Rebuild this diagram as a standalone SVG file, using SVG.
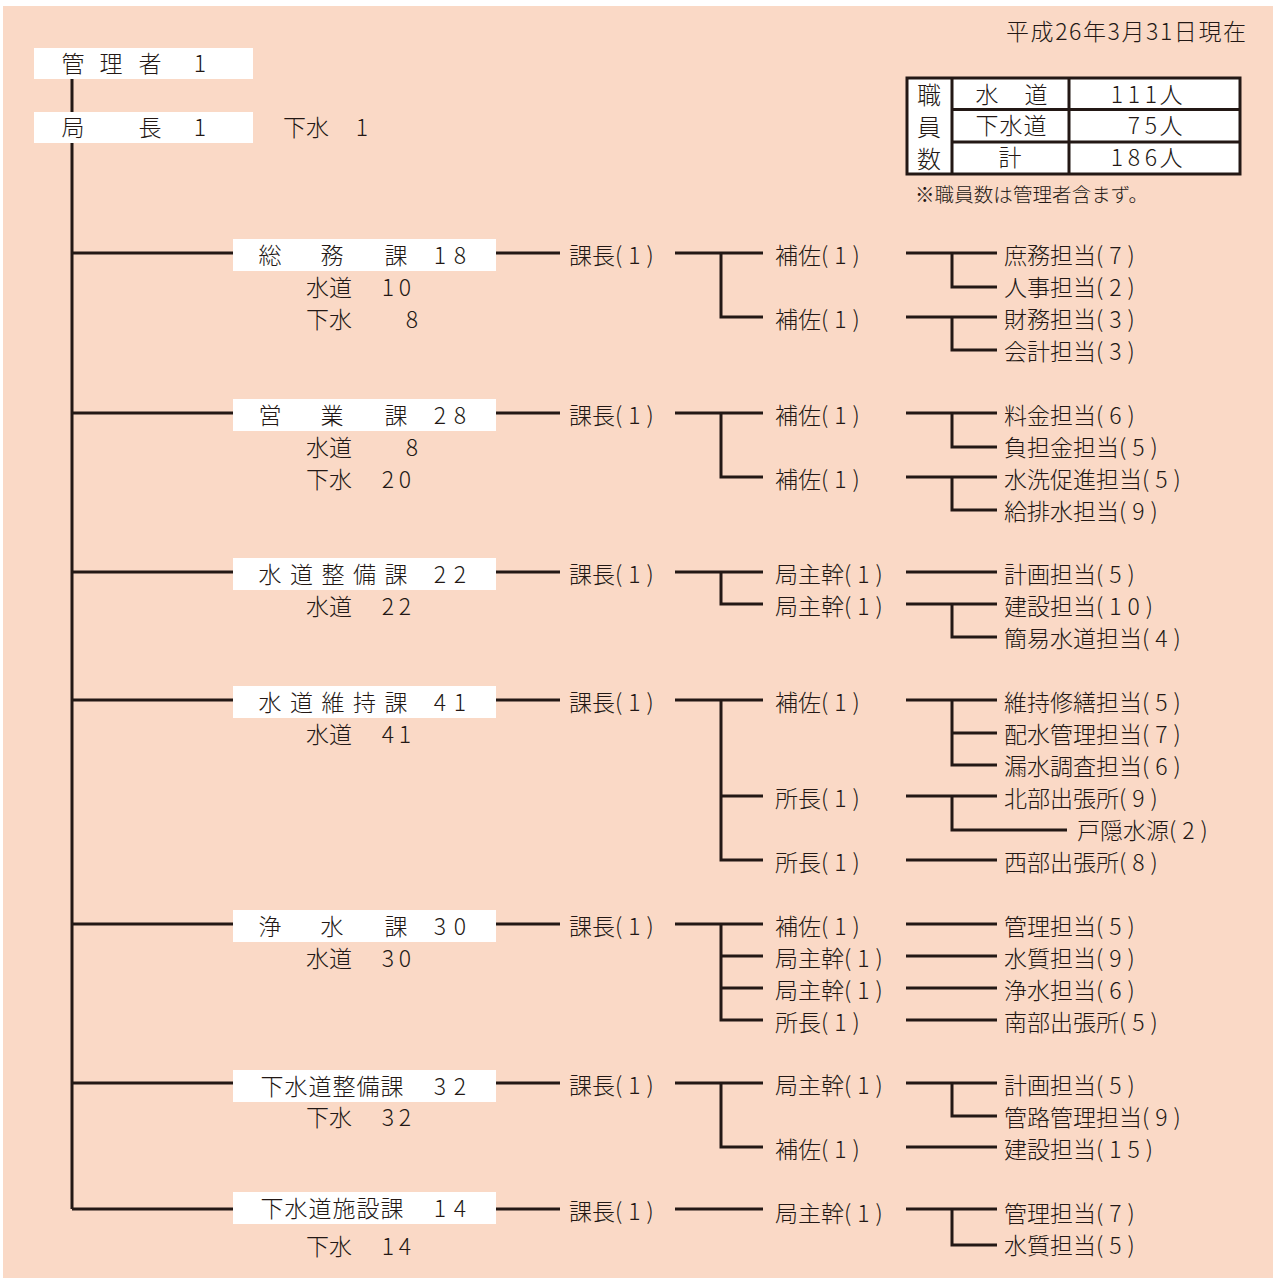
<svg xmlns="http://www.w3.org/2000/svg" width="1273" height="1280" viewBox="0 0 1273 1280">
  <style>
    text { font-family: "Noto Sans CJK JP", "Noto Sans", sans-serif; font-size: 23px; font-weight: 300; fill: #231815; }
    .m { text-anchor: middle; }
    .p { letter-spacing: 6px; }
    .tb { font-size: 23px; }
    .big { font-size: 24px; }
    .ln { stroke: #231815; stroke-width: 3; fill: none; }
    .box { fill: #ffffff; }
    .tbl { fill: #ffffff; stroke: #231815; stroke-width: 3; }
  </style>

  <!-- sheet -->
  <rect x="0" y="0" width="1273" height="1280" fill="#ffffff"/>
  <rect x="3" y="6" width="1270" height="1272" fill="#FAD9C6"/>

  <!-- date -->
  <text x="1006" y="40" textLength="240" lengthAdjust="spacing">平成26年3月31日現在</text>

  <!-- staff count table -->
  <g id="staff-table">
    <rect class="tbl" x="907" y="78" width="333" height="96"/>
    <path class="ln" d="M952 78V174M1069 78V174M952 109.5H1240M952 142H1240"/>
    <text class="m big" x="929" y="103.5">職</text>
    <text class="m big" x="929" y="135.5">員</text>
    <text class="m big" x="929" y="167.5">数</text>
    <text class="m tb" x="987 1036" y="102.5">水道</text>
    <text class="m tb" x="987 1011 1035" y="134">下水道</text>
    <text class="m tb" x="1010" y="166">計</text>
    <text class="m tb" x="1117 1134 1151 1171" y="102.5">111人</text>
    <text class="m tb" x="1134 1151 1171" y="134">75人</text>
    <text class="m tb" x="1117 1134 1151 1171" y="166">186人</text>
    <text x="915" y="202" style="font-size:19.5px" textLength="233" lengthAdjust="spacing">※職員数は管理者含まず。</text>
  </g>

  <!-- connectors -->
  <g id="connectors" class="ln">
    <!-- trunk -->
    <path d="M72 79V112M72 143V1209"/>
    <!-- trunk to sections -->
    <path d="M72 253H233M72 413H233M72 572H233M72 700H233M72 924H233M72 1083H233M72 1209H233"/>
    <!-- section to 課長 -->
    <path d="M496 253H560M496 413H560M496 572H560M496 700H560M496 924H560M496 1083H560M496 1209H560"/>

    <!-- 総務課 -->
    <path d="M675 253H763M721 253V317H763"/>
    <path d="M906 253H997M952 253V287H997"/>
    <path d="M906 317H997M952 317V350H997"/>
    <!-- 営業課 -->
    <path d="M675 413H763M721 413V477H763"/>
    <path d="M906 413H997M952 413V447H997"/>
    <path d="M906 477H997M952 477V510H997"/>
    <!-- 水道整備課 -->
    <path d="M675 572H763M721 572V604H763"/>
    <path d="M906 572H997"/>
    <path d="M906 604H997M952 604V637H997"/>
    <!-- 水道維持課 -->
    <path d="M675 700H763M721 700V860H763M721 796H763"/>
    <path d="M906 700H997M952 700V765H997M952 733H997"/>
    <path d="M906 796H997M952 796V830H1067"/>
    <path d="M906 860H997"/>
    <!-- 浄水課 -->
    <path d="M675 924H763M721 924V1020H763M721 956H763M721 988H763"/>
    <path d="M906 924H997M906 956H997M906 988H997M906 1020H997"/>
    <!-- 下水道整備課 -->
    <path d="M675 1083H763M721 1083V1147H763"/>
    <path d="M906 1083H997M952 1083V1116H997"/>
    <path d="M906 1147H997"/>
    <!-- 下水道施設課 -->
    <path d="M675 1209H763"/>
    <path d="M906 1209H997M952 1209V1245H997"/>
  </g>

  <!-- top management -->
  <g id="kanrisha">
    <rect class="box" x="34" y="48" width="219" height="31"/>
    <text class="m" x="73 111 150 200" y="72">管理者1</text>
  </g>
  <g id="kyokucho">
    <rect class="box" x="34" y="112" width="219" height="31"/>
    <text class="m" x="73 150 200" y="136">局長1</text>
    <text x="283" y="136">下水</text>
    <text class="m" x="362" y="136">1</text>
  </g>

  <!-- 総務課 -->
  <g id="somu">
    <rect class="box" x="233" y="239" width="263" height="32"/>
    <text class="m" x="270 332 396 440 460" y="264">総務課18</text>
    <text x="306" y="296">水道</text><text class="m" x="388 405" y="296">10</text>
    <text x="306" y="328">下水</text><text class="m" x="412" y="328">8</text>
    <text x="569" y="263.5">課長<tspan class="p">(1)</tspan></text>
    <text x="775" y="263.5">補佐<tspan class="p">(1)</tspan></text>
    <text x="775" y="327.5">補佐<tspan class="p">(1)</tspan></text>
    <text x="1004" y="263.5">庶務担当<tspan class="p">(7)</tspan></text>
    <text x="1004" y="295.5">人事担当<tspan class="p">(2)</tspan></text>
    <text x="1004" y="327.5">財務担当<tspan class="p">(3)</tspan></text>
    <text x="1004" y="359.5">会計担当<tspan class="p">(3)</tspan></text>
  </g>

  <!-- 営業課 -->
  <g id="eigyo">
    <rect class="box" x="233" y="399" width="263" height="32"/>
    <text class="m" x="270 332 396 440 460" y="424">営業課28</text>
    <text x="306" y="456">水道</text><text class="m" x="412" y="456">8</text>
    <text x="306" y="488">下水</text><text class="m" x="388 405" y="488">20</text>
    <text x="569" y="423.5">課長<tspan class="p">(1)</tspan></text>
    <text x="775" y="423.5">補佐<tspan class="p">(1)</tspan></text>
    <text x="775" y="487.5">補佐<tspan class="p">(1)</tspan></text>
    <text x="1004" y="423.5">料金担当<tspan class="p">(6)</tspan></text>
    <text x="1004" y="455.5">負担金担当<tspan class="p">(5)</tspan></text>
    <text x="1004" y="487.5">水洗促進担当<tspan class="p">(5)</tspan></text>
    <text x="1004" y="519.5">給排水担当<tspan class="p">(9)</tspan></text>
  </g>

  <!-- 水道整備課 -->
  <g id="suido-seibi">
    <rect class="box" x="233" y="558" width="263" height="32"/>
    <text class="m" x="270 301.5 333 364.5 396 440 460" y="583">水道整備課22</text>
    <text x="306" y="615">水道</text><text class="m" x="388 405" y="615">22</text>
    <text x="569" y="582.5">課長<tspan class="p">(1)</tspan></text>
    <text x="775" y="582.5">局主幹<tspan class="p">(1)</tspan></text>
    <text x="775" y="614.5">局主幹<tspan class="p">(1)</tspan></text>
    <text x="1004" y="582.5">計画担当<tspan class="p">(5)</tspan></text>
    <text x="1004" y="614.5">建設担当<tspan class="p">(10)</tspan></text>
    <text x="1004" y="646.5">簡易水道担当<tspan class="p">(4)</tspan></text>
  </g>

  <!-- 水道維持課 -->
  <g id="suido-iji">
    <rect class="box" x="233" y="686" width="263" height="32"/>
    <text class="m" x="270 301.5 333 364.5 396 440 460" y="711">水道維持課41</text>
    <text x="306" y="743">水道</text><text class="m" x="388 405" y="743">41</text>
    <text x="569" y="710.5">課長<tspan class="p">(1)</tspan></text>
    <text x="775" y="710.5">補佐<tspan class="p">(1)</tspan></text>
    <text x="775" y="806.5">所長<tspan class="p">(1)</tspan></text>
    <text x="775" y="870.5">所長<tspan class="p">(1)</tspan></text>
    <text x="1004" y="710.5">維持修繕担当<tspan class="p">(5)</tspan></text>
    <text x="1004" y="742.5">配水管理担当<tspan class="p">(7)</tspan></text>
    <text x="1004" y="774.5">漏水調査担当<tspan class="p">(6)</tspan></text>
    <text x="1004" y="806.5">北部出張所<tspan class="p">(9)</tspan></text>
    <text x="1077" y="838.5">戸隠水源<tspan class="p">(2)</tspan></text>
    <text x="1004" y="870.5">西部出張所<tspan class="p">(8)</tspan></text>
  </g>

  <!-- 浄水課 -->
  <g id="josui">
    <rect class="box" x="233" y="910" width="263" height="32"/>
    <text class="m" x="270 332 396 440 460" y="935">浄水課30</text>
    <text x="306" y="967">水道</text><text class="m" x="388 405" y="967">30</text>
    <text x="569" y="934.5">課長<tspan class="p">(1)</tspan></text>
    <text x="775" y="934.5">補佐<tspan class="p">(1)</tspan></text>
    <text x="775" y="966.5">局主幹<tspan class="p">(1)</tspan></text>
    <text x="775" y="998.5">局主幹<tspan class="p">(1)</tspan></text>
    <text x="775" y="1030.5">所長<tspan class="p">(1)</tspan></text>
    <text x="1004" y="934.5">管理担当<tspan class="p">(5)</tspan></text>
    <text x="1004" y="966.5">水質担当<tspan class="p">(9)</tspan></text>
    <text x="1004" y="998.5">浄水担当<tspan class="p">(6)</tspan></text>
    <text x="1004" y="1030.5">南部出張所<tspan class="p">(5)</tspan></text>
  </g>

  <!-- 下水道整備課 -->
  <g id="gesui-seibi">
    <rect class="box" x="233" y="1070" width="263" height="32"/>
    <text class="m" x="272 296 320 344 368 392 440 460" y="1095">下水道整備課32</text>
    <text x="306" y="1126">下水</text><text class="m" x="388 405" y="1126">32</text>
    <text x="569" y="1093.5">課長<tspan class="p">(1)</tspan></text>
    <text x="775" y="1093.5">局主幹<tspan class="p">(1)</tspan></text>
    <text x="775" y="1157.5">補佐<tspan class="p">(1)</tspan></text>
    <text x="1004" y="1093.5">計画担当<tspan class="p">(5)</tspan></text>
    <text x="1004" y="1125.5">管路管理担当<tspan class="p">(9)</tspan></text>
    <text x="1004" y="1157.5">建設担当<tspan class="p">(15)</tspan></text>
  </g>

  <!-- 下水道施設課 -->
  <g id="gesui-shisetsu">
    <rect class="box" x="233" y="1192" width="263" height="32"/>
    <text class="m" x="272 296 320 344 368 392 440 460" y="1216.5">下水道施設課14</text>
    <text x="306" y="1254.5">下水</text><text class="m" x="388 405" y="1254.5">14</text>
    <text x="569" y="1219.5">課長<tspan class="p">(1)</tspan></text>
    <text x="775" y="1221.5">局主幹<tspan class="p">(1)</tspan></text>
    <text x="1004" y="1221.5">管理担当<tspan class="p">(7)</tspan></text>
    <text x="1004" y="1253.5">水質担当<tspan class="p">(5)</tspan></text>
  </g>
</svg>
